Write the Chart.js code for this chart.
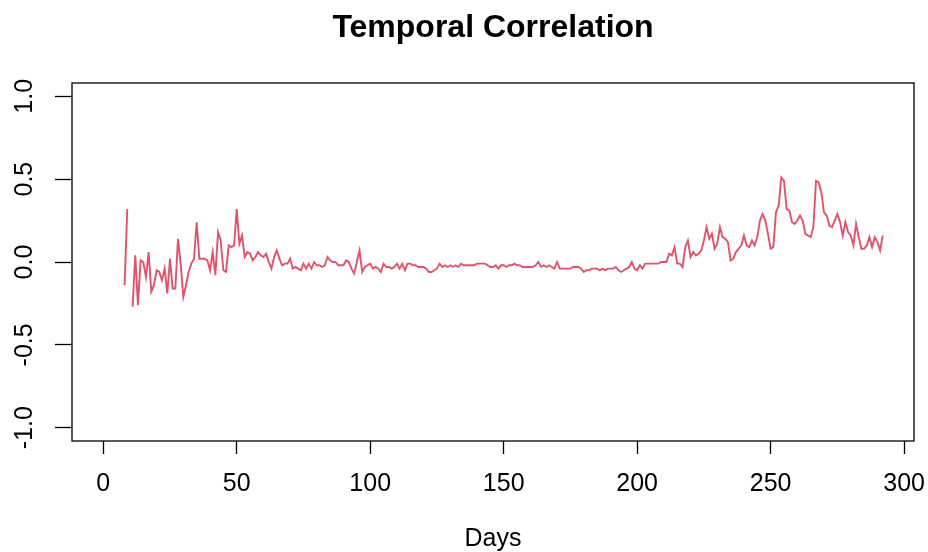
<!DOCTYPE html>
<html>
<head>
<meta charset="utf-8">
<script src="https://cdn.jsdelivr.net/npm/chart.js@4/dist/chart.umd.min.js"></script>
<style>
  html, body { margin: 0; padding: 0; background: #ffffff; }
  canvas { display: block; }
</style>
</head>
<body>
<canvas id="c" width="928" height="552"></canvas>
<script>
// ---- Data ----
const chartTitle = "Temporal Correlation";
const xAxisTitle = "Days";
const firstDay = 8;
// correlation value for each day from day 8 to day 292 (null = missing, line break)
const correlation = [
  -0.14, 0.32, null, -0.27, 0.04, -0.26, 0.01, 0.00, -0.09, 0.06,   // 8-17
  -0.18, -0.14, -0.05, -0.06, -0.11, -0.04, -0.19, 0.02, -0.16, -0.16, // 18-27
  0.14, -0.01, -0.21, -0.14, -0.06, -0.01, 0.02, 0.24, 0.02, 0.02,    // 28-37
  0.02, 0.01, -0.05, 0.06, -0.08, 0.18, 0.13, -0.05, -0.06, 0.10,     // 38-47
  0.09, 0.10, 0.32, 0.11, 0.16, 0.03, 0.06, 0.05, 0.01, 0.03,         // 48-57
  0.06, 0.04, 0.03, 0.05, 0.00, -0.04, 0.03, 0.07, 0.02, -0.02,       // 58-67
  -0.01, -0.01, 0.02, -0.04, -0.03, -0.04, -0.05, -0.01, -0.04, -0.01, // 68-77
  -0.04, 0.00, -0.02, -0.02, -0.03, -0.02, 0.03, 0.01, 0.00, 0.00,    // 78-87
  -0.02, -0.02, -0.02, 0.01, 0.00, -0.04, -0.07, 0.00, 0.07, -0.06,   // 88-97
  -0.03, -0.02, -0.01, -0.04, -0.03, -0.04, -0.06, -0.01, -0.03, -0.03, // 98-107
  -0.04, -0.03, -0.01, -0.04, -0.01, -0.05, -0.01, -0.01, -0.02, -0.02, // 108-117
  -0.03, -0.03, -0.03, -0.04, -0.06, -0.06, -0.05, -0.04, -0.01, -0.03, // 118-127
  -0.02, -0.03, -0.02, -0.03, -0.02, -0.03, -0.01, -0.02, -0.02, -0.02, // 128-137
  -0.02, -0.02, -0.01, -0.01, -0.01, -0.01, -0.02, -0.03, -0.03, -0.02, // 138-147
  -0.04, -0.02, -0.02, -0.03, -0.02, -0.02, -0.01, -0.02, -0.02, -0.03, // 148-157
  -0.03, -0.03, -0.03, -0.03, -0.02, 0.00, -0.03, -0.02, -0.03, -0.02,  // 158-167
  -0.03, -0.04, 0.00, -0.04, -0.04, -0.04, -0.04, -0.04, -0.03, -0.03,  // 168-177
  -0.03, -0.04, -0.06, -0.05, -0.05, -0.04, -0.04, -0.04, -0.05, -0.04, // 178-187
  -0.05, -0.04, -0.04, -0.04, -0.03, -0.05, -0.06, -0.05, -0.04, -0.03, // 188-197
  0.00, -0.04, -0.05, -0.02, -0.04, -0.01, -0.01, -0.01, -0.01, -0.01,  // 198-207
  -0.01, 0.00, 0.00, 0.00, 0.05, 0.04, 0.09, -0.01, -0.01, -0.03,       // 208-217
  0.09, 0.13, 0.03, 0.06, 0.04, 0.05, 0.07, 0.13, 0.21, 0.14,          // 218-227
  0.17, 0.08, 0.11, 0.21, 0.15, 0.14, 0.12, 0.01, 0.02, 0.06,          // 228-237
  0.08, 0.10, 0.16, 0.10, 0.09, 0.13, 0.10, 0.15, 0.25, 0.29,          // 238-247
  0.25, 0.17, 0.08, 0.09, 0.30, 0.34, 0.51, 0.49, 0.32, 0.31,          // 248-257
  0.24, 0.23, 0.25, 0.28, 0.25, 0.17, 0.16, 0.15, 0.21, 0.49,          // 258-267
  0.48, 0.42, 0.30, 0.28, 0.22, 0.21, 0.25, 0.29, 0.24, 0.16,          // 268-277
  0.24, 0.18, 0.16, 0.10, 0.23, 0.15, 0.08, 0.08, 0.10, 0.15,          // 278-287
  0.09, 0.15, 0.12, 0.07, 0.16                                         // 288-292
];
const days = correlation.map((_, i) => firstDay + i);
const xTicks = [0, 50, 100, 150, 200, 250, 300];
const yTicks = [-1.0, -0.5, 0.0, 0.5, 1.0];
const yTickLabels = ["-1.0", "-0.5", "0.0", "0.5", "1.0"];

// ---- Chart ----
const FONT = "'Liberation Sans', Arial, Helvetica, sans-serif";

const boxPlugin = {
  id: 'plotBox',
  afterDraw(chart) {
    const a = chart.chartArea;
    const ctx = chart.ctx;
    ctx.save();
    ctx.strokeStyle = '#000';
    ctx.lineWidth = 1.3;
    ctx.strokeRect(a.left, a.top, a.right - a.left, a.bottom - a.top);
    ctx.restore();
  }
};

new Chart(document.getElementById('c'), {
  type: 'line',
  data: {
    datasets: [{
      data: days.map((d, i) => ({ x: d, y: correlation[i] })),
      borderColor: '#DF536B',
      borderWidth: 1.9,
      pointRadius: 0,
      tension: 0,
      spanGaps: false,
      fill: false
    }]
  },
  options: {
    responsive: false,
    animation: false,
    devicePixelRatio: 1,
    layout: { padding: { left: 0, right: 14, top: 0, bottom: 0 } },
    plugins: {
      legend: { display: false },
      tooltip: { enabled: false },
      title: {
        display: true,
        fullSize: false,
        text: chartTitle,
        color: '#000',
        font: { family: FONT, size: 32, weight: 'bold', lineHeight: 1.2 },
        padding: { top: 8.8, bottom: 35.8 }
      }
    },
    scales: {
      x: {
        type: 'linear',
        min: -11.7,
        max: 303.7,
        afterBuildTicks: (s) => { s.ticks = xTicks.map(v => ({ value: v })); },
        afterFit: (s) => { s.height = 111; s.paddingLeft = 0; s.paddingRight = 0; },
        border: { display: false },
        grid: {
          display: true,
          drawOnChartArea: false,
          drawTicks: true,
          tickLength: 13,
          tickColor: '#000',
          tickWidth: 1.3
        },
        ticks: {
          color: '#000',
          font: { family: FONT, size: 25 },
          padding: 15,
          maxRotation: 0,
          minRotation: 0,
          autoSkip: false,
          callback: (v) => String(v)
        },
        title: {
          display: true,
          text: xAxisTitle,
          color: '#000',
          font: { family: FONT, size: 25, lineHeight: 1.0 },
          padding: { top: 0, bottom: 0 }
        }
      },
      y: {
        type: 'linear',
        min: -1.08,
        max: 1.08,
        afterBuildTicks: (s) => { s.ticks = yTicks.map(v => ({ value: v })); },
        afterFit: (s) => { s.width = 72; s.paddingTop = 0; s.paddingBottom = 0; },
        border: { display: false },
        grid: {
          display: true,
          drawOnChartArea: false,
          drawTicks: true,
          tickLength: 17,
          tickColor: '#000',
          tickWidth: 1.3
        },
        ticks: {
          color: '#000',
          font: { family: FONT, size: 25 },
          padding: 8.5,
          minRotation: 90,
          maxRotation: 90,
          crossAlign: 'center',
          autoSkip: false,
          callback: (v) => {
            const i = yTicks.indexOf(v);
            return i >= 0 ? yTickLabels[i] : '';
          }
        }
      }
    }
  },
  plugins: [boxPlugin]
});
</script>
</body>
</html>
